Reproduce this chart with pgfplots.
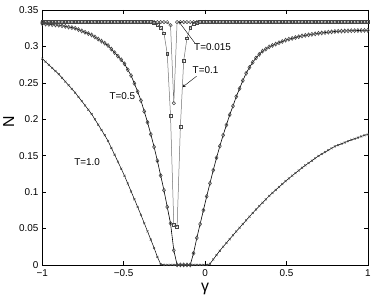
\documentclass[border=0pt]{standalone}
\usepackage{fontspec}
\setmainfont{Liberation Sans}
\usepackage{pgfplots}
\usepackage{pgfplotstable}
\pgfplotsset{compat=1.18}
\pgfplotstableread{
g A B C D
-1.0000 0.3333 0.3333 0.3310 0.2830
-0.9798 0.3333 0.3333 0.3306 0.2788
-0.9596 0.3333 0.3333 0.3302 0.2745
-0.9394 0.3333 0.3333 0.3298 0.2703
-0.9192 0.3333 0.3333 0.3294 0.2660
-0.8990 0.3333 0.3333 0.3290 0.2618
-0.8788 0.3333 0.3333 0.3282 0.2567
-0.8586 0.3333 0.3333 0.3274 0.2516
-0.8384 0.3333 0.3333 0.3265 0.2466
-0.8182 0.3333 0.3333 0.3257 0.2415
-0.7980 0.3333 0.3333 0.3248 0.2364
-0.7778 0.3333 0.3333 0.3230 0.2306
-0.7576 0.3333 0.3333 0.3212 0.2248
-0.7374 0.3333 0.3333 0.3193 0.2189
-0.7172 0.3333 0.3333 0.3175 0.2131
-0.6970 0.3333 0.3333 0.3156 0.2070
-0.6768 0.3333 0.3333 0.3128 0.1998
-0.6566 0.3333 0.3333 0.3100 0.1925
-0.6364 0.3333 0.3333 0.3071 0.1852
-0.6162 0.3333 0.3333 0.3043 0.1779
-0.5960 0.3333 0.3333 0.3011 0.1701
-0.5758 0.3333 0.3333 0.2962 0.1606
-0.5556 0.3333 0.3333 0.2914 0.1511
-0.5354 0.3333 0.3333 0.2865 0.1416
-0.5152 0.3333 0.3333 0.2816 0.1321
-0.4949 0.3333 0.3333 0.2760 0.1223
-0.4747 0.3333 0.3333 0.2679 0.1116
-0.4545 0.3333 0.3333 0.2598 0.1009
-0.4343 0.3333 0.3333 0.2491 0.0902
-0.4141 0.3333 0.3333 0.2378 0.0795
-0.3939 0.3333 0.3333 0.2256 0.0686
-0.3737 0.3333 0.3333 0.2107 0.0573
-0.3535 0.3333 0.3333 0.1957 0.0460
-0.3333 0.3333 0.3333 0.1793 0.0347
-0.3131 0.3333 0.3320 0.1619 0.0233
-0.2929 0.3333 0.3300 0.1429 0.0110
-0.2727 0.3333 0.3260 0.1227 0.0010
-0.2525 0.3333 0.3180 0.1025 0.0000
-0.2323 0.3333 0.2900 0.0795 0.0000
-0.2121 0.3290 0.2050 0.0570 0.0000
-0.1919 0.2220 0.0550 0.0200 0.0000
-0.1717 0.3333 0.0520 0.0000 0.0000
-0.1515 0.3333 0.1900 0.0000 0.0000
-0.1313 0.3333 0.2800 0.0000 0.0000
-0.1111 0.3333 0.3110 0.0000 0.0000
-0.0909 0.3333 0.3260 0.0000 0.0000
-0.0707 0.3333 0.3310 0.0160 0.0000
-0.0505 0.3333 0.3325 0.0370 0.0000
-0.0303 0.3333 0.3333 0.0560 0.0000
-0.0101 0.3333 0.3333 0.0750 0.0000
0.0101 0.3333 0.3333 0.0940 0.0000
0.0303 0.3333 0.3333 0.1120 0.0015
0.0505 0.3333 0.3333 0.1300 0.0075
0.0707 0.3333 0.3333 0.1470 0.0135
0.0909 0.3333 0.3333 0.1630 0.0194
0.1111 0.3333 0.3333 0.1780 0.0249
0.1313 0.3333 0.3333 0.1920 0.0301
0.1515 0.3333 0.3333 0.2060 0.0354
0.1717 0.3333 0.3333 0.2180 0.0407
0.1919 0.3333 0.3333 0.2310 0.0459
0.2121 0.3333 0.3333 0.2420 0.0510
0.2323 0.3333 0.3333 0.2530 0.0561
0.2525 0.3333 0.3333 0.2630 0.0611
0.2727 0.3333 0.3333 0.2710 0.0662
0.2929 0.3333 0.3333 0.2780 0.0712
0.3131 0.3333 0.3333 0.2840 0.0760
0.3333 0.3333 0.3333 0.2890 0.0807
0.3535 0.3333 0.3333 0.2935 0.0853
0.3737 0.3333 0.3333 0.2963 0.0900
0.3939 0.3333 0.3333 0.2992 0.0946
0.4141 0.3333 0.3333 0.3013 0.0988
0.4343 0.3333 0.3333 0.3031 0.1029
0.4545 0.3333 0.3333 0.3049 0.1069
0.4747 0.3333 0.3333 0.3067 0.1109
0.4949 0.3333 0.3333 0.3085 0.1150
0.5152 0.3333 0.3333 0.3098 0.1187
0.5354 0.3333 0.3333 0.3109 0.1224
0.5556 0.3333 0.3333 0.3121 0.1260
0.5758 0.3333 0.3333 0.3132 0.1296
0.5960 0.3333 0.3333 0.3143 0.1333
0.6162 0.3333 0.3333 0.3151 0.1366
0.6364 0.3333 0.3333 0.3158 0.1398
0.6566 0.3333 0.3333 0.3165 0.1430
0.6768 0.3333 0.3333 0.3172 0.1463
0.6970 0.3333 0.3333 0.3179 0.1495
0.7172 0.3333 0.3333 0.3184 0.1522
0.7374 0.3333 0.3333 0.3189 0.1548
0.7576 0.3333 0.3333 0.3194 0.1575
0.7778 0.3333 0.3333 0.3199 0.1601
0.7980 0.3333 0.3333 0.3204 0.1627
0.8182 0.3333 0.3333 0.3207 0.1644
0.8384 0.3333 0.3333 0.3209 0.1662
0.8586 0.3333 0.3333 0.3211 0.1680
0.8788 0.3333 0.3333 0.3213 0.1698
0.8990 0.3333 0.3333 0.3215 0.1716
0.9192 0.3333 0.3333 0.3216 0.1731
0.9394 0.3333 0.3333 0.3217 0.1747
0.9596 0.3333 0.3333 0.3218 0.1763
0.9798 0.3333 0.3333 0.3219 0.1779
1.0000 0.3333 0.3333 0.3220 0.1790
}\datatable
\definecolor{mk}{RGB}{70,70,70}
\definecolor{ln}{RGB}{110,110,110}
\begin{document}
\begin{tikzpicture}
\begin{axis}[
  scale only axis,
  width=328.4pt, height=257.3pt,
  xmin=-1, xmax=1, ymin=0, ymax=0.35,
  xtick={-1,-0.5,0,0.5,1},
  xticklabels={−1,−0.5,0,0.5,1},
  ytick={0,0.05,0.1,0.15,0.2,0.25,0.3,0.3499},
  yticklabels={0,0.05,0.1,0.15,0.2,0.25,0.3,0.35},
  tick align=inside,
  major tick length=4pt,
  tick style={black, line width=0.4pt},
  ticklabel style={font=\fontsize{10}{12}\selectfont},
  xticklabel style={yshift=-1.5pt},
  yticklabel style={xshift=-0.5pt},
  axis line style={line width=0.5pt},
  xlabel={γ},
  xlabel style={font=\fontsize{16}{18}\selectfont, yshift=1pt},
  ylabel={N},
  ylabel style={font=\fontsize{16}{18}\selectfont, at={(ticklabel cs:0.56)}, yshift=-2pt},
  clip=false,
]
\addplot[black, line width=0.5pt, mark=x, mark size=1.4pt, mark options={mk, line width=0.5pt}] table[x=g, y=D] {\datatable};
\addplot[black, line width=0.6pt, mark=diamond, mark size=2pt, mark options={mk, line width=0.6pt}] table[x=g, y=C] {\datatable};
\addplot[ln, line width=0.5pt, mark=square, mark size=1.4pt, mark options={mk, line width=0.5pt}] table[x=g, y=B] {\datatable};
\addplot[ln, line width=0.5pt, mark=o, mark size=1.7pt, mark options={mk, line width=0.5pt}] table[x=g, y=A] {\datatable};
\node[font=\fontsize{10}{12}\selectfont] at (axis cs:0.046,0.299) {T=0.015};
\draw[-stealth, line width=0.4pt] (axis cs:-0.064,0.305) -- (axis cs:-0.163,0.3345);
\node[font=\fontsize{10}{12}\selectfont] at (axis cs:0.003,0.267) {T=0.1};
\draw[-stealth, line width=0.4pt] (axis cs:-0.052,0.259) -- (axis cs:-0.138,0.244);
\node[font=\fontsize{10}{12}\selectfont] at (axis cs:-0.508,0.232) {T=0.5};
\node[font=\fontsize{10}{12}\selectfont] at (axis cs:-0.725,0.141) {T=1.0};
\end{axis}
\path ([shift={(-39.3pt,-30.7pt)}]current axis.south west) rectangle ([shift={(6.3pt,10pt)}]current axis.north east);
\end{tikzpicture}
\end{document}
